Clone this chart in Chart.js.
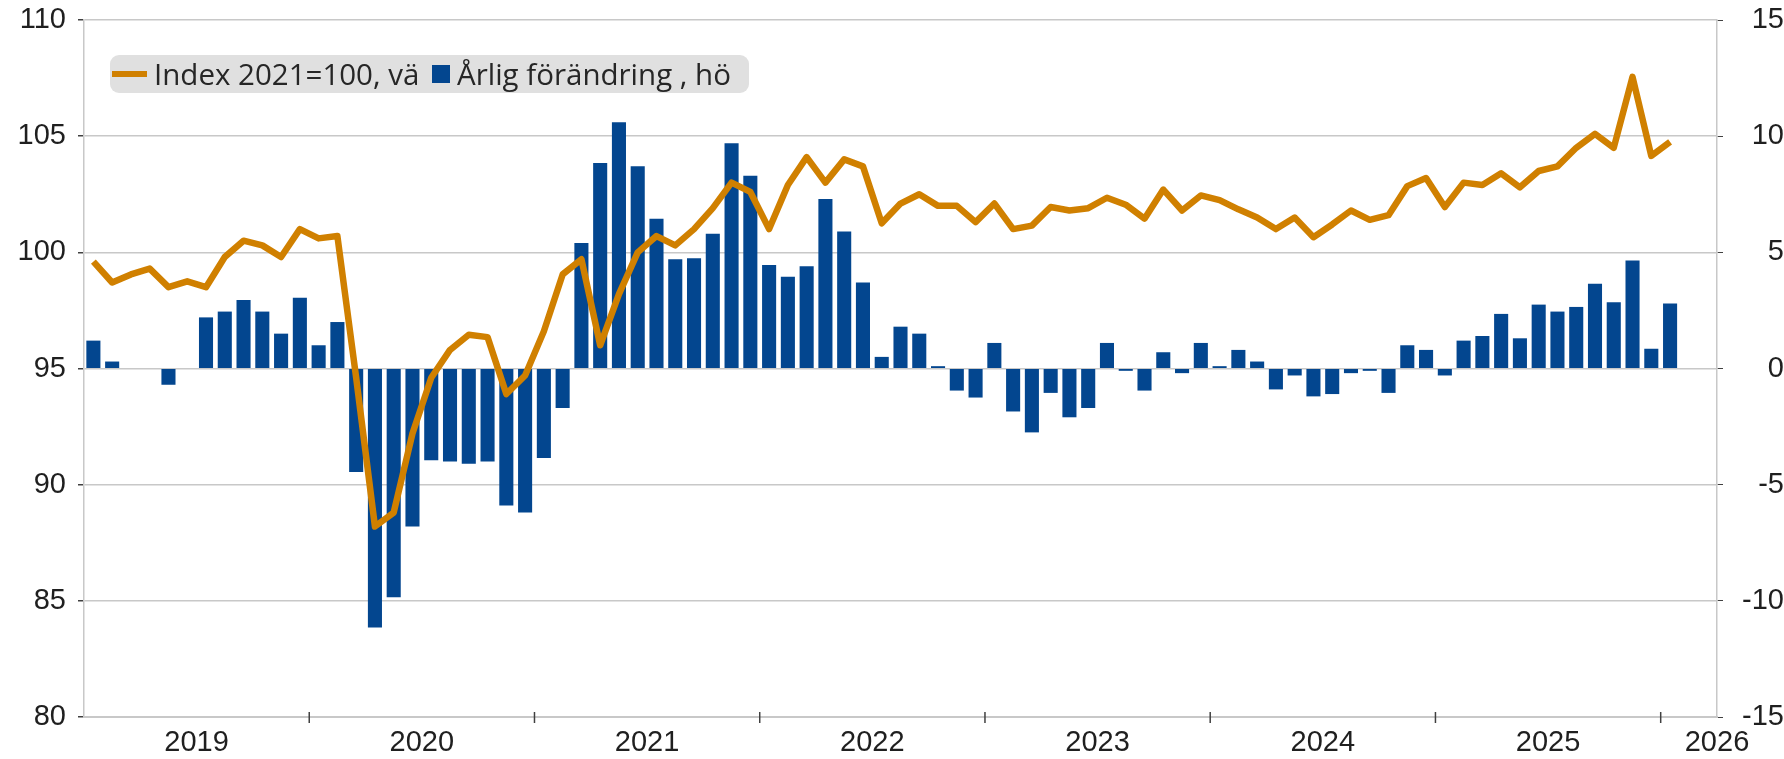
<!DOCTYPE html>
<html>
<head>
<meta charset="utf-8">
<script src="https://cdn.jsdelivr.net/npm/chart.js@4"></script>
<style>
  body { margin: 0; background: #fff; }
  #wrap { position: relative; width: 1784px; height: 759px; }
  #legend {
    position: absolute; left: 110px; top: 55px; width: 639px; height: 38px;
    background: #e0e0e0; border-radius: 9px;
    font-family: 'Open Sans', sans-serif; font-size: 29.5px; color: #262626;
  }
  #legend span { position: absolute; white-space: nowrap; line-height: 38px; top: 0; }
  #legend .swLine { position: absolute; left: 2px; top: 16px; width: 35px; height: 6px; background: #d08000; }
  #legend .swBar { position: absolute; left: 322px; top: 10px; width: 18px; height: 18px; background: #03468f; }
</style>
</head>
<body>
<div id="wrap">
  <canvas id="myChart"></canvas>
  <div id="legend">
    <div class="swLine"></div><span style="left:44px">Index 2021=100, vä</span>
    <div class="swBar"></div><span style="left:347px">Årlig förändring , hö</span>
  </div>
</div>
<script>
// years on the x axis (2026 only Jan-Mar)
const years = ['2019', '2020', '2021', '2022', '2023', '2024', '2025', '2026'];
const monthsPerYear = [12, 12, 12, 12, 12, 12, 12, 3];

// index 2021=100, left axis (Jan 2019 - Jan 2026)
const indexValues = [
  99.6, 98.7, 99.05, 99.3, 98.5, 98.75, 98.5, 99.8, 100.5, 100.3, 99.8, 101.0,
  100.6, 100.7, 94.6, 88.2, 88.8, 92.2, 94.6, 95.8, 96.45, 96.35, 93.9, 94.7,
  96.6, 99.05, 99.7, 96.0, 98.2, 100.0, 100.7, 100.3, 101.0, 101.9, 103.0, 102.6,
  101.0, 102.9, 104.1, 103.0, 104.0, 103.7, 101.25, 102.1, 102.5, 102.0, 102.0, 101.3,
  102.1, 101.0, 101.15, 101.95, 101.8, 101.9, 102.35, 102.05, 101.45, 102.7, 101.8, 102.45,
  102.25, 101.85, 101.5, 101.0, 101.5, 100.65, 101.2, 101.8, 101.4, 101.6, 102.85, 103.2,
  101.95, 103.0, 102.9, 103.4, 102.8, 103.5, 103.7, 104.5, 105.1, 104.5, 107.55, 104.15,
  104.75
];

// annual change, right axis
const annualChange = [
  1.2, 0.3, 0, 0, -0.7, 0, 2.2, 2.45, 2.95, 2.45, 1.5, 3.05,
  1.0, 2.0, -4.45, -11.15, -9.85, -6.8, -3.95, -4.0, -4.1, -4.0, -5.9, -6.2,
  -3.85, -1.7, 5.4, 8.85, 10.6, 8.7, 6.45, 4.7, 4.75, 5.8, 9.7, 8.3,
  4.45, 3.95, 4.4, 7.3, 5.9, 3.7, 0.5, 1.8, 1.5, 0.1, -0.95, -1.25,
  1.1, -1.85, -2.75, -1.05, -2.1, -1.7, 1.1, -0.1, -0.95, 0.7, -0.2, 1.1,
  0.1, 0.8, 0.3, -0.9, -0.3, -1.2, -1.1, -0.2, -0.1, -1.05, 1.0, 0.8,
  -0.3, 1.2, 1.4, 2.35, 1.3, 2.75, 2.45, 2.65, 3.65, 2.85, 4.65, 0.85,
  2.8
];

const leftTicks = [80, 85, 90, 95, 100, 105, 110];
const rightTicks = [-15, -10, -5, 0, 5, 10, 15];

const categories = [];
years.forEach((y, k) => {
  for (let m = 1; m <= monthsPerYear[k]; m++) {
    categories.push(y + '-' + String(m).padStart(2, '0'));
  }
});

const tickFont = { family: 'Liberation Sans, Arial, sans-serif', size: 29 };
const textColor = '#1f1f1f';
const gridGray = '#c8c8c8';

// year labels and year tick marks under the x axis
const yearAxis = {
  id: 'yearAxis',
  afterDraw(chart) {
    const ctx = chart.ctx;
    const xs = chart.scales.x;
    const area = chart.chartArea;
    const w = xs.getPixelForValue(1) - xs.getPixelForValue(0);
    let start = 0;
    ctx.save();
    ctx.font = '29px Liberation Sans, Arial, sans-serif';
    ctx.fillStyle = textColor;
    ctx.textAlign = 'center';
    ctx.textBaseline = 'middle';
    ctx.strokeStyle = '#404040';
    ctx.lineWidth = 1.5;
    years.forEach((y, k) => {
      const left = xs.getPixelForValue(start) - w / 2;
      if (k > 0) {
        ctx.beginPath();
        ctx.moveTo(left, area.bottom - 5);
        ctx.lineTo(left, area.bottom + 6);
        ctx.stroke();
      }
      const cx = Math.min(left + 6 * w, area.right);
      ctx.fillText(y, cx, area.bottom + 26);
      start += monthsPerYear[k];
    });
    ctx.restore();
  }
};

function fixY(width) {
  return function (s) {
    s.width = width;
    s.paddingTop = 0;
    s.paddingBottom = 0;
  };
}

const chart = new Chart(document.getElementById('myChart'), {
  data: {
    labels: categories,
    datasets: [{
      type: 'line',
      label: 'Index 2021=100, vä',
      data: indexValues,
      yAxisID: 'y',
      borderColor: '#d08000',
      borderWidth: 6.5,
      borderJoinStyle: 'round',
      pointRadius: 0,
      tension: 0,
      order: 0
    }, {
      type: 'bar',
      label: 'Årlig förändring , hö',
      data: annualChange,
      yAxisID: 'y1',
      backgroundColor: '#03468f',
      categoryPercentage: 1,
      barPercentage: 0.75,
      order: 1
    }]
  },
  options: {
    responsive: true,
    maintainAspectRatio: false,
    animation: false,
    layout: { padding: { top: 20, left: 0, right: 0, bottom: 0 } },
    plugins: { legend: { display: false }, tooltip: { enabled: false } },
    scales: {
      x: {
        type: 'category',
        offset: true,
        grid: { display: false },
        border: { color: gridGray, width: 2 },
        ticks: { display: false },
        afterFit(s) { s.height = 42; }
      },
      y: {
        position: 'left',
        min: 80,
        max: 110,
        afterBuildTicks(s) { s.ticks = leftTicks.map(v => ({ value: v })); },
        grid: { color: gridGray, lineWidth: 1.5, tickLength: 6, tickColor: '#404040' },
        border: { color: gridGray, width: 1.5 },
        ticks: { font: tickFont, color: textColor, padding: 12 },
        afterFit: fixY(84)
      },
      y1: {
        position: 'right',
        min: -15,
        max: 15,
        afterBuildTicks(s) { s.ticks = rightTicks.map(v => ({ value: v })); },
        grid: { drawOnChartArea: false, tickLength: 6, tickColor: '#404040' },
        border: { color: gridGray, width: 1.5 },
        ticks: { font: tickFont, color: textColor, padding: 7, crossAlign: 'far' },
        afterFit: fixY(67)
      }
    }
  },
  plugins: [yearAxis]
});
</script>
</body>
</html>
